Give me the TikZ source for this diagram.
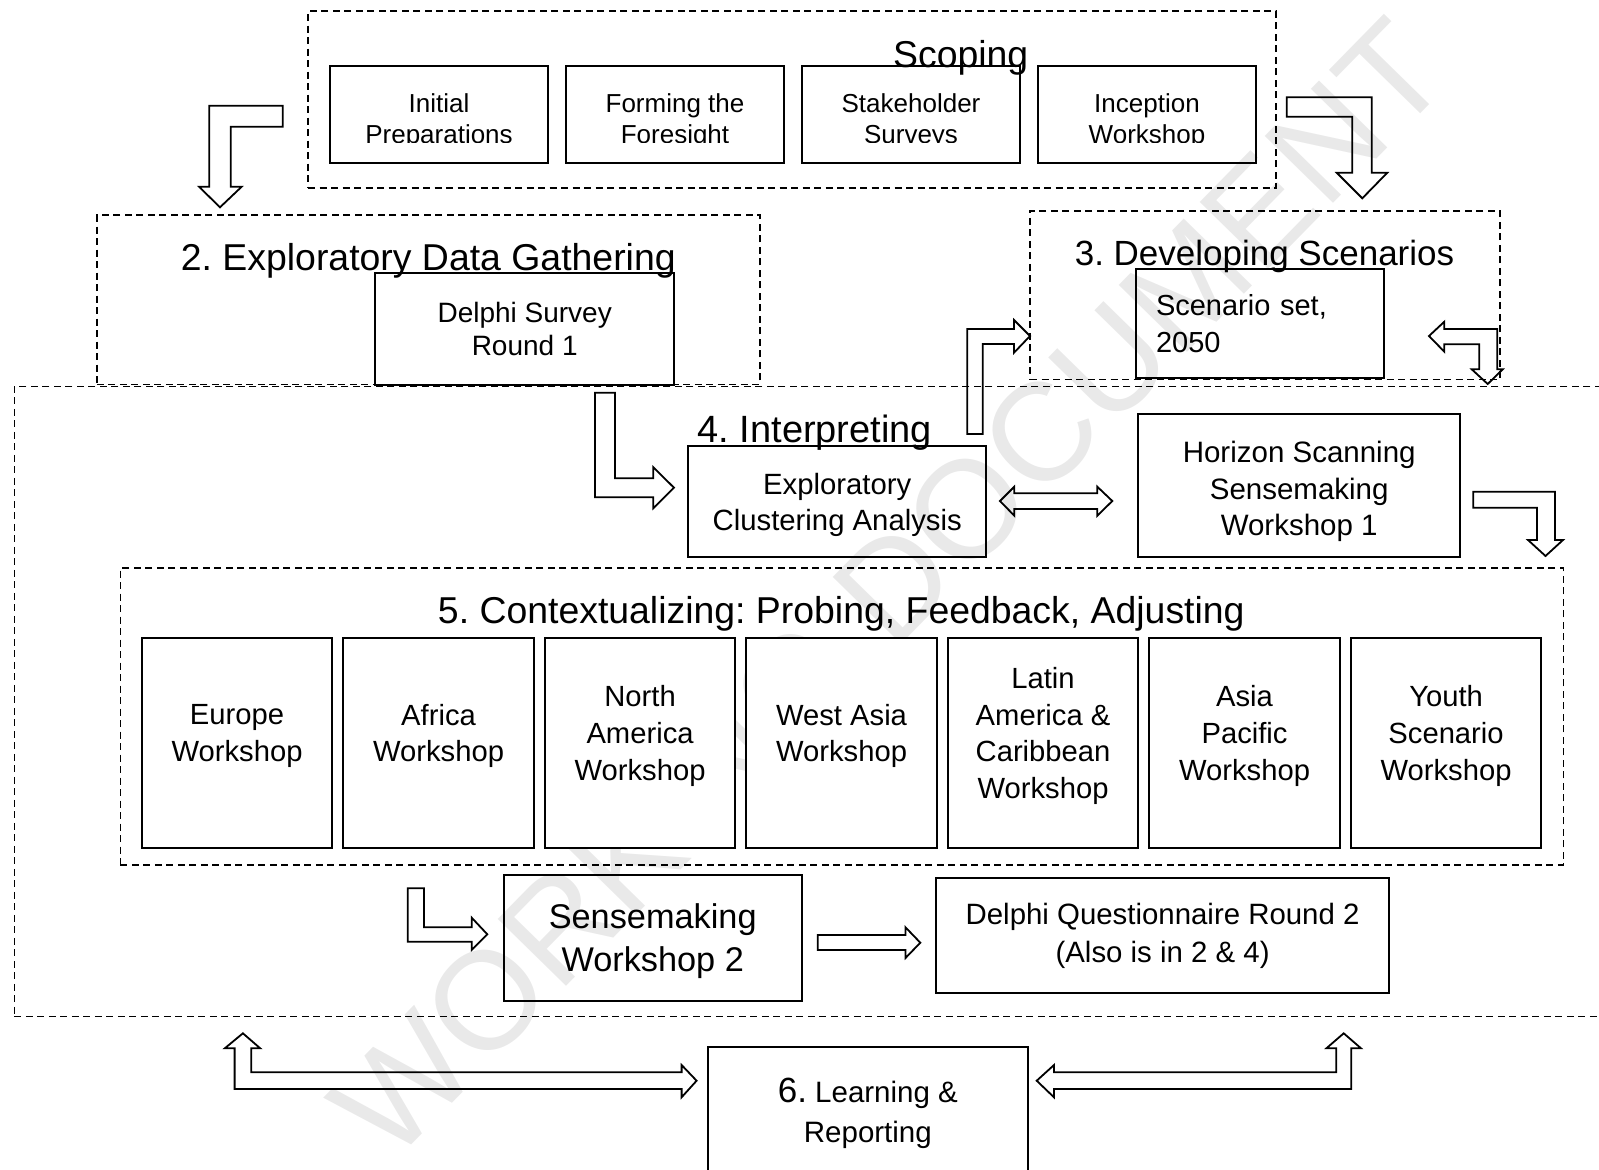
\documentclass[tikz,border=0pt]{standalone}
\usepackage{fontspec}
\setmainfont{Liberation Sans}
\usetikzlibrary{positioning}
\frenchspacing

\begin{document}
\begin{tikzpicture}[x=1pt, y=-1pt, node distance=201.5pt]
    \tikzstyle{stage} = [draw, dash pattern=on 7pt off 4.5pt, line width=1.5pt, inner sep=0pt]
    \tikzstyle{block} = [draw, line width=2pt, align=center, inner sep=0pt]
    \tikzstyle{sbox} = [block, minimum width=217.2pt, minimum height=96.9pt]
    \tikzstyle{stext} = [align=center, font=\fontsize{26}{31.6}\selectfont]
    \tikzstyle{ws} = [block, fill=white, minimum width=190.7pt, minimum height=209.1pt]
    \tikzstyle{wstext} = [align=center, font=\fontsize{29.2}{36.7}\selectfont]
    \tikzstyle{heading} = [anchor=base, inner sep=0pt, font=\fontsize{37.4}{45}\selectfont]
    \tikzstyle{fat} = [draw, line width=1.8pt, line join=miter]
    \useasboundingbox (0,0) rectangle (1599,1170);

    % watermark
    \node[rotate=45.6, text=gray!17, font=\fontsize{139}{139}\selectfont] (mark) at (889,589) {WORKING DOCUMENT};

    % 1. scoping
    \node[stage, minimum width=968pt, minimum height=177pt] (scoping) at (792,99.5) {};
    \node[heading] (scoping-h) at (960.7,67) {Scoping};
    \node[sbox] (initial) at (439,114.75) {};
    \node[sbox, right of=initial, node distance=236pt] (forming) {};
    \node[sbox, right of=forming, node distance=236pt] (survey) {};
    \node[sbox, right of=survey, node distance=236pt] (inception) {};
    \begin{scope}
        \clip (300,60) rectangle (1270,142.5);
        \node[stext] (initial-t) at ([yshift=-6.5pt]initial.center) {Initial\\Preparations};
        \node[stext] (forming-t) at ([yshift=-6.5pt]forming.center) {Forming the\\Foresight};
        \node[stext] (survey-t) at ([yshift=-6.5pt]survey.center) {Stakeholder\\Surveys};
        \node[stext] (inception-t) at ([yshift=-6.5pt]inception.center) {Inception\\Workshop};
    \end{scope}

    % 2. exploratory data gathering
    \node[stage, minimum width=662.9pt, minimum height=169.3pt] (gather) at (428.35,299.85) {};
    \node[heading] (gather-h) at (428.3,270) {2. Exploratory Data Gathering};
    \node[block, minimum width=298.8pt, minimum height=111.2pt, font=\fontsize{28}{33.7}\selectfont] (delphi) at (524.7,328.9) {Delphi Survey\\Round 1};

    % 3. developing scenarios
    \node[stage, minimum width=470.1pt, minimum height=168.4pt] (develop) at (1265.05,295.2) {};
    \node[heading, font=\fontsize{35}{42}\selectfont] (develop-h) at (1264.5,265) {3. Developing Scenarios};
    \node[block, align=left, text width=208pt, inner xsep=20pt, minimum width=247.9pt, minimum height=109.1pt, font=\fontsize{29}{36.6}\selectfont] (scenario) at (1260,323.75) {Scenario set,\\2050};

    % 4. interpreting
    \node[stage, minimum width=1605.7pt, minimum height=630.2pt] (interpret) at (817.15,701.6) {};
    \node[heading, font=\fontsize{38}{45}\selectfont] (interpret-h) at (814.8,442.5) {4. Interpreting};
    \node[block, minimum width=297.7pt, minimum height=111.2pt] (cluster) at (837.25,501.2) {};
    \node[align=center, font=\fontsize{29.3}{35.6}\selectfont] (cluster-t) at ([yshift=-4pt]cluster.center) {Exploratory\\Clustering Analysis};
    \node[block, minimum width=322.4pt, minimum height=142.8pt] (horizon) at (1299.2,485.4) {};
    \node[align=center, font=\fontsize{29.5}{36.2}\selectfont] (horizon-t) at ([yshift=-6pt]horizon.center) {Horizon Scanning\\Sensemaking\\Workshop 1};

    % 5. contextualizing
    \node[stage, minimum width=1443pt, minimum height=296.8pt] (context) at (841.8,716.4) {};
    \node[heading] (context-h) at (841.3,623) {5. Contextualizing: Probing, Feedback, Adjusting};
    \node[ws] (europe) at (237.05,743) {};
    \node[ws, right of=europe] (africa) {};
    \node[ws, right of=africa] (namerica) {};
    \node[ws, right of=namerica] (wasia) {};
    \node[ws, right of=wasia] (latin) {};
    \node[ws, right of=latin] (pacific) {};
    \node[ws, right of=pacific] (youth) {};
    \node[wstext] (europe-t) at ([yshift=7pt]europe.center) {Europe\\Workshop};
    \node[wstext] (africa-t) at ([yshift=7pt]africa.center) {Africa\\Workshop};
    \node[wstext] (namerica-t) at ([yshift=7pt]namerica.center) {North\\America\\Workshop};
    \node[wstext] (wasia-t) at ([yshift=7pt]wasia.center) {West Asia\\Workshop};
    \node[wstext] (latin-t) at ([yshift=7pt]latin.center) {Latin\\America \&\\Caribbean\\Workshop};
    \node[wstext] (pacific-t) at ([yshift=7pt]pacific.center) {Asia\\Pacific\\Workshop};
    \node[wstext] (youth-t) at ([yshift=7pt]youth.center) {Youth\\Scenario\\Workshop};

    \node[block, minimum width=297.8pt, minimum height=126.4pt] (sense2) at (652.7,938.2) {};
    \node[align=center, font=\fontsize{34.3}{42.8}\selectfont] (sense2-t) at ([yshift=-3pt]sense2.center) {Sensemaking\\Workshop 2};
    \node[block, minimum width=452.8pt, minimum height=115.3pt, font=\fontsize{29.4}{37.7}\selectfont] (delphi2) at (1162.6,935.65) {Delphi Questionnaire Round 2\\(Also is in 2 \& 4)};

    % 6. learning
    \node[block, minimum width=320.3pt, minimum height=132.7pt, font=\fontsize{29.5}{40}\selectfont] (learning) at (867.85,1113.65) {{\fontsize{35}{40}\selectfont 6.} Learning \&\\Reporting};

    % block arrows
    \path[fat] (209.3,105.7) -- (282.7,105.7) -- (282.7,126.7) -- (230.7,126.7) -- (230.7,186.7) -- (241.7,186.7)
        -- (220,207.3) -- (199,186.7) -- (209.3,186.7) -- cycle;
    \path[fat] (1286.7,97.3) -- (1371.7,97.3) -- (1371.7,172.7) -- (1387.3,172.7) -- (1362.3,198.3)
        -- (1336.7,172.7) -- (1352.3,172.7) -- (1352.3,116.7) -- (1286.7,116.7) -- cycle;
    \path[fat] (595,392.7) -- (615,392.7) -- (615,478.3) -- (653.3,478.3) -- (653.3,467.3) -- (674,487.7)
        -- (653.3,508.3) -- (653.3,497.3) -- (595,497.3) -- cycle;
    \path[fat] (967.3,434) -- (967.3,329) -- (1014,329) -- (1014,320) -- (1030,336) -- (1014,352.7)
        -- (1014,344) -- (982.7,344) -- (982.7,434) -- cycle;
    \path[fat] (1429,336) -- (1444.3,321.7) -- (1444.3,329) -- (1497.3,329) -- (1497.3,369.3) -- (1502.7,369.3)
        -- (1487.7,384) -- (1471.7,369.3) -- (1479.3,369.3) -- (1479.3,344.3) -- (1444.3,344.3) -- (1444.3,351.7) -- cycle;
    \path[fat] (1000,501) -- (1014.3,486.7) -- (1014.3,493.3) -- (1097.3,493.3) -- (1097.3,486.7) -- (1112.3,501)
        -- (1097.3,515.7) -- (1097.3,509) -- (1014.3,509) -- (1014.3,515.7) -- cycle;
    \path[fat] (1473.3,491.7) -- (1555,491.7) -- (1555,540) -- (1563,540) -- (1545.5,556)
        -- (1528,540) -- (1537,540) -- (1537,507.7) -- (1473.3,507.7) -- cycle;
    \path[fat] (407.7,888.3) -- (424,888.3) -- (424,927.3) -- (471.7,927.3) -- (471.7,917.7) -- (487.3,934.3)
        -- (471.7,950) -- (471.7,941.7) -- (407.7,941.7) -- cycle;
    \path[fat] (817.7,935) -- (905.5,935) -- (905.5,927.3) -- (920.3,942.7) -- (905.5,958) -- (905.5,950)
        -- (817.7,950) -- cycle;
    \path[fat] (242.9,1033.3) -- (260.2,1048.3) -- (251.2,1048.3) -- (251.2,1072.3) -- (681.6,1072.3) -- (681.6,1065)
        -- (696.6,1080.7) -- (681.6,1097.3) -- (681.6,1089) -- (234.6,1089) -- (234.6,1048.3) -- (224.8,1048.3) -- cycle;
    \path[fat] (1343.7,1033.3) -- (1326.4,1048.3) -- (1336.2,1048.3) -- (1336.2,1072.3) -- (1054,1072.3) -- (1054,1065)
        -- (1036.7,1080.7) -- (1054,1097.3) -- (1054,1089) -- (1351.2,1089) -- (1351.2,1048.3) -- (1361,1048.3) -- cycle;
\end{tikzpicture}
\end{document}
